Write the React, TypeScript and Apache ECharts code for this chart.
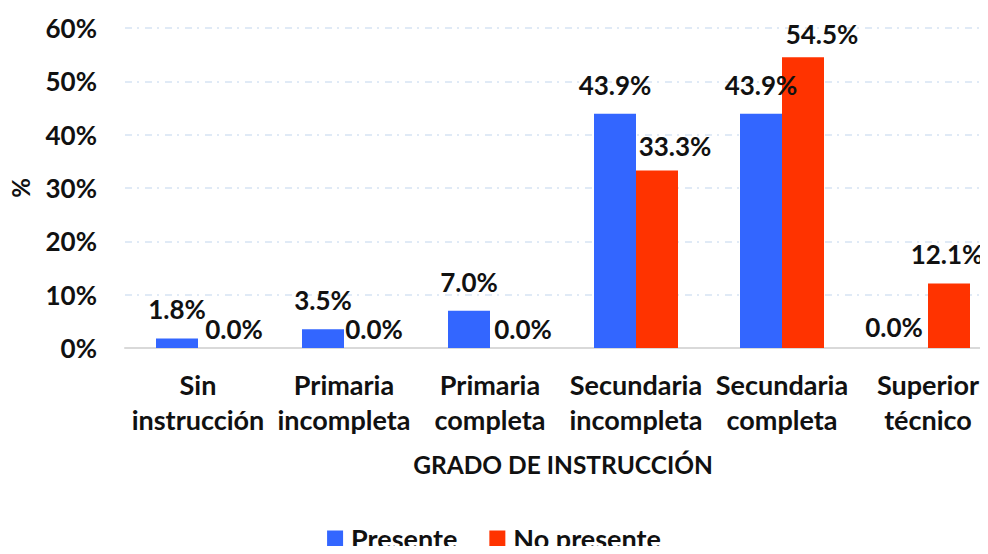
import React, { useEffect, useRef } from "react";
import * as echarts from "echarts";

const categories = [
  "Sin\ninstrucción",
  "Primaria\nincompleta",
  "Primaria\ncompleta",
  "Secundaria\nincompleta",
  "Secundaria\ncompleta",
  "Superior\ntécnico",
];
const presente = [1.8, 3.5, 7.0, 43.9, 43.9, 0.0];
const noPresente = [0.0, 0.0, 0.0, 33.3, 54.5, 12.1];
const yTicks = [0, 10, 20, 30, 40, 50, 60];

// label nudges (style only)
const presenteLabelOffsets = [[0, 0], [0, 0], [0, 0], [0, 0], [0, 0], [-13, 8]];
const noPresenteLabelOffsets = [[15, 10], [9, 10], [12, 10], [18, 5], [19, 6], [-2, 0]];

const FONT = "Lato";
const TXT = "#111111";

export default function App() {
  const ref = useRef<HTMLDivElement>(null);
  useEffect(() => {
    if (!ref.current) return;
    const chart = echarts.init(ref.current, undefined, { renderer: "svg" });
    const labelBase = {
      show: true,
      position: "top" as const,
      distance: 16,
      fontFamily: FONT,
      fontWeight: "bold" as const,
      fontSize: 26,
      color: TXT,
      formatter: (p: any) => Number(p.value).toFixed(1) + "%",
    };
    chart.setOption({
      animation: false,
      backgroundColor: "#ffffff",
      textStyle: { fontFamily: FONT },
      grid: {
        left: 125,
        top: 28,
        width: 876,
        height: 320,
        containLabel: false,
        outerBoundsMode: "none",
      },
      legend: {
        top: 525,
        left: "center",
        padding: 0,
        itemWidth: 16,
        itemHeight: 16,
        itemGap: 32,
        icon: "rect",
        textStyle: {
          fontFamily: FONT,
          fontWeight: "bold",
          fontSize: 27,
          color: TXT,
          padding: [0, 0, 0, 3],
        },
        data: ["Presente", "No presente"],
      },
      xAxis: {
        type: "category",
        data: categories,
        name: "GRADO DE INSTRUCCIÓN",
        nameLocation: "middle",
        nameGap: 104,
        nameMoveOverlap: false,
        nameTextStyle: { fontFamily: FONT, fontWeight: "bold", fontSize: 24.5, color: TXT },
        axisLine: { show: true, lineStyle: { color: "#d9d9d9", width: 2 } },
        axisTick: { show: false },
        axisLabel: {
          interval: 0,
          margin: 19,
          fontFamily: FONT,
          fontWeight: "bold",
          fontSize: 27,
          lineHeight: 35,
          color: TXT,
        },
      },
      yAxis: {
        type: "value",
        min: yTicks[0],
        max: yTicks[yTicks.length - 1],
        interval: 10,
        name: "%",
        nameLocation: "middle",
        nameRotate: 90,
        nameGap: 93,
        nameMoveOverlap: false,
        nameTextStyle: { fontFamily: FONT, fontWeight: "bold", fontSize: 24, color: TXT },
        axisLine: { show: false },
        axisTick: { show: false },
        axisLabel: {
          margin: 28,
          fontFamily: FONT,
          fontWeight: "bold",
          fontSize: 26,
          color: TXT,
          formatter: (v: number) => v + "%",
        },
        splitLine: {
          show: true,
          lineStyle: { color: "#d6e3f3", width: 1.5, type: [7, 5, 2, 6] },
        },
      },
      series: [
        {
          name: "Presente",
          type: "bar",
          barWidth: 42,
          barGap: "0%",
          itemStyle: { color: "#3366ff" },
          label: labelBase,
          data: presente.map((v, i) => ({ value: v, label: { offset: presenteLabelOffsets[i] } })),
        },
        {
          name: "No presente",
          type: "bar",
          barWidth: 42,
          barGap: "0%",
          itemStyle: { color: "#ff3300" },
          label: labelBase,
          data: noPresente.map((v, i) => ({ value: v, label: { offset: noPresenteLabelOffsets[i] } })),
        },
      ],
    });
    return () => chart.dispose();
  }, []);
  return <div ref={ref} style={{ width: 988, height: 554, margin: -8 }} />;
}
